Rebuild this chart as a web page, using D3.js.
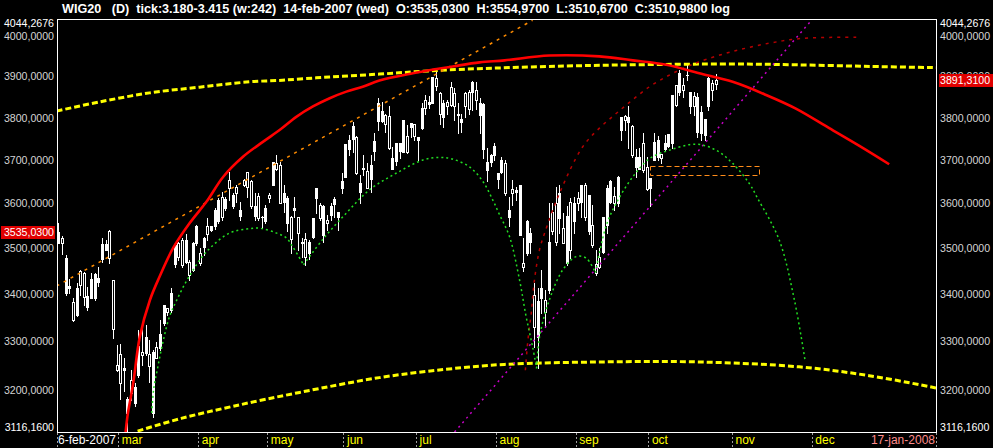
<!DOCTYPE html>
<html>
<head>
<meta charset="utf-8">
<script src="https://cdn.jsdelivr.net/npm/d3@7/dist/d3.min.js"></script>
<style>
  html, body { margin: 0; padding: 0; background: #000; }
  svg { display: block; }
</style>
</head>
<body>
<div id="chart"></div>
<script>
/* globals d3 */
const ticker = 'WIG20';
const windowBars = 242;
const priceMin = 3116.16;
const priceMax = 4044.2676;

// daily bars, 6-feb-2007 .. 26-oct-2007 (bar index 0..181)
const opens = [3535.03, 3511, 3478, 3418, 3345, 3413, 3420, 3394, 3396, 3433,
  3444, 3435, 3509, 3509, 3478, 3325, 3241, 3214, 3245, 3182,
  3194, 3206, 3290, 3271, 3308, 3249, 3278, 3265, 3314, 3377,
  3362, 3402, 3507, 3481, 3463, 3518, 3441, 3511, 3548, 3467,
  3522, 3530, 3548, 3585, 3608, 3569, 3609, 3634, 3619, 3623,
  3585, 3642, 3637, 3593, 3594, 3567, 3570, 3589, 3612, 3696,
  3678, 3600, 3623, 3612, 3519, 3590, 3534, 3514, 3480, 3514,
  3566, 3634, 3567, 3594, 3556, 3594, 3609, 3581, 3650, 3737,
  3747, 3780, 3669, 3646, 3682, 3636, 3688, 3745, 3835, 3817,
  3786, 3727, 3704, 3739, 3739, 3794, 3719, 3788, 3756, 3753,
  3823, 3823, 3839, 3898, 3877, 3810, 3835, 3827, 3831, 3827,
  3810, 3798, 3827, 3820, 3887, 3843, 3835, 3833, 3696, 3711,
  3733, 3669, 3700, 3623, 3585, 3624, 3631, 3642, 3459, 3559,
  3533, 3330, 3384, 3412, 3362, 3514, 3537, 3514, 3623, 3512,
  3572, 3496, 3600, 3600, 3642, 3570, 3619, 3507, 3445, 3459,
  3570, 3634, 3652, 3600, 3661, 3802, 3794, 3802, 3711, 3707,
  3707, 3677, 3632, 3657, 3743, 3747, 3704, 3739, 3761, 3855,
  3831, 3908, 3866, 3904, 3863, 3828, 3851, 3814, 3796, 3896,
  3867, 3882];

const highs = [3554.97, 3527, 3485, 3433, 3391, 3424, 3452, 3448, 3415, 3446,
  3446, 3459, 3522, 3518, 3540, 3431, 3292, 3294, 3265, 3186,
  3241, 3214, 3323, 3329, 3334, 3302, 3282, 3298, 3345, 3377,
  3370, 3413, 3511, 3514, 3522, 3530, 3474, 3514, 3551, 3499,
  3525, 3567, 3550, 3589, 3612, 3627, 3615, 3673, 3623, 3642,
  3604, 3656, 3673, 3654, 3623, 3623, 3572, 3596, 3623, 3696,
  3711, 3696, 3642, 3617, 3572, 3615, 3570, 3522, 3533, 3518,
  3567, 3635, 3600, 3596, 3574, 3600, 3615, 3581, 3669, 3738,
  3759, 3790, 3756, 3665, 3711, 3692, 3711, 3764, 3847, 3839,
  3810, 3827, 3730, 3739, 3739, 3794, 3782, 3788, 3786, 3753,
  3836, 3855, 3853, 3898, 3916, 3861, 3843, 3843, 3887, 3871,
  3835, 3810, 3863, 3867, 3890, 3887, 3847, 3835, 3727, 3715,
  3739, 3670, 3707, 3700, 3615, 3654, 3638, 3642, 3522, 3563,
  3544, 3423, 3412, 3452, 3409, 3600, 3600, 3638, 3642, 3578,
  3593, 3612, 3615, 3627, 3642, 3646, 3619, 3596, 3496, 3499,
  3570, 3642, 3654, 3638, 3663, 3802, 3806, 3827, 3782, 3725,
  3727, 3763, 3707, 3657, 3763, 3756, 3715, 3758, 3761, 3855,
  3879, 3917, 3896, 3929, 3863, 3863, 3859, 3827, 3798, 3900,
  3891, 3907];

const lows = [3510.67, 3487, 3398, 3402, 3342, 3353, 3398, 3377, 3366, 3391,
  3387, 3418, 3470, 3496, 3467, 3306, 3238, 3182, 3198, 3116.16,
  3180, 3168, 3227, 3251, 3271, 3216, 3146, 3265, 3282, 3334,
  3355, 3362, 3459, 3474, 3459, 3467, 3431, 3449, 3507, 3463,
  3485, 3518, 3537, 3542, 3556, 3563, 3585, 3608, 3589, 3604,
  3563, 3640, 3615, 3590, 3563, 3563, 3545, 3556, 3604, 3642,
  3677, 3600, 3580, 3537, 3488, 3570, 3496, 3481, 3463, 3475,
  3521, 3578, 3563, 3514, 3541, 3563, 3570, 3541, 3623, 3660,
  3711, 3719, 3667, 3600, 3665, 3634, 3627, 3700, 3771, 3790,
  3767, 3725, 3678, 3688, 3704, 3719, 3717, 3753, 3747, 3700,
  3773, 3810, 3823, 3836, 3867, 3786, 3778, 3810, 3827, 3794,
  3764, 3767, 3802, 3810, 3819, 3820, 3763, 3704, 3650, 3686,
  3700, 3634, 3669, 3619, 3548, 3596, 3608, 3529, 3449, 3484,
  3488, 3288, 3244, 3359, 3330, 3402, 3530, 3507, 3533, 3511,
  3463, 3478, 3533, 3585, 3570, 3563, 3530, 3503, 3441, 3456,
  3488, 3533, 3600, 3585, 3593, 3747, 3771, 3727, 3707, 3661,
  3678, 3673, 3630, 3593, 3700, 3700, 3692, 3723, 3730, 3727,
  3827, 3855, 3851, 3891, 3811, 3806, 3755, 3747, 3747, 3819,
  3843, 3870];

const closes = [3510.98, 3522, 3402, 3413, 3383, 3355, 3450, 3446, 3372, 3391,
  3391, 3426, 3476, 3496, 3538, 3431, 3251, 3273, 3241, 3154,
  3220, 3174, 3231, 3278, 3276, 3273, 3154, 3288, 3286, 3338,
  3370, 3366, 3465, 3511, 3518, 3470, 3470, 3452, 3511, 3488,
  3503, 3550, 3541, 3548, 3559, 3615, 3589, 3654, 3593, 3638,
  3572, 3654, 3671, 3652, 3572, 3617, 3568, 3559, 3619, 3642,
  3693, 3688, 3602, 3556, 3570, 3586, 3568, 3510, 3519, 3490,
  3525, 3612, 3596, 3529, 3563, 3574, 3598, 3570, 3634, 3661,
  3725, 3749, 3753, 3627, 3679, 3674, 3655, 3722, 3793, 3793,
  3806, 3804, 3678, 3698, 3722, 3719, 3756, 3778, 3785, 3747,
  3775, 3843, 3832, 3836, 3896, 3859, 3802, 3837, 3875, 3859,
  3806, 3790, 3859, 3863, 3863, 3867, 3806, 3725, 3677, 3696,
  3711, 3655, 3673, 3693, 3570, 3632, 3627, 3529, 3468, 3488,
  3514, 3398, 3309, 3391, 3386, 3409, 3581, 3600, 3566, 3544,
  3467, 3604, 3559, 3612, 3604, 3642, 3537, 3551, 3465, 3481,
  3492, 3551, 3604, 3617, 3600, 3771, 3804, 3790, 3780, 3683,
  3680, 3739, 3684, 3634, 3700, 3707, 3714, 3725, 3733, 3739,
  3879, 3863, 3879, 3903, 3828, 3853, 3767, 3764, 3759, 3827,
  3883, 3891.31];

const yTicks = [4000, 3900, 3800, 3700, 3600, 3500, 3400, 3300, 3200];
const monthLabels = ['mar', 'apr', 'may', 'jun', 'jul', 'aug', 'sep', 'oct', 'nov', 'dec'];
const monthStarts = [17, 39, 58, 79, 99, 121, 143, 163, 186, 208];
const firstDate = '6-feb-2007';
const lastDate = '17-jan-2008';

// studies drawn over the bars, as [bar index, price]
const redArc = [[18.5, 3116], [19.0, 3147], [20.6, 3214], [22.4, 3309], [25.2, 3387],
  [27.9, 3438], [31.6, 3500], [36.2, 3556], [40.8, 3604], [45.4, 3661], [50.9, 3708],
  [56.4, 3743], [61, 3771], [65.5, 3802], [70.1, 3827], [74.7, 3847], [79.3, 3863],
  [83.8, 3875], [88.4, 3890], [97.6, 3908], [103.1, 3917], [108.6, 3925], [116, 3935],
  [122.9, 3940], [135.2, 3952], [149, 3950], [158.2, 3940], [167.4, 3929], [176.5, 3908],
  [185.7, 3887], [194.9, 3855], [203.1, 3822], [212.3, 3775], [220.6, 3733], [228.8, 3690]];
const upperYellow = [[-0.5, 3816], [11.3, 3838], [25.1, 3860], [38.9, 3874], [52.6, 3887],
  [61.7, 3891], [74.7, 3899], [88.4, 3906], [102.2, 3914], [120.6, 3921], [139.9, 3926],
  [158, 3929], [185.6, 3931], [203.2, 3929], [223.4, 3925], [241.7, 3922]];
const lowerYellow = [[21.8, 3118], [33.8, 3143], [48, 3167], [66.4, 3195], [88.4, 3225],
  [106.8, 3242], [122.8, 3252], [149, 3257], [176.5, 3257], [204, 3247], [223.3, 3229],
  [241.7, 3204]];
const greenArcs = [
  [[25.7, 3154], [26.2, 3200], [27.4, 3248], [28.8, 3299], [30.6, 3352], [32.6, 3387],
    [35.8, 3435], [40.8, 3492], [47.1, 3533], [51.8, 3542], [55.4, 3544], [60.1, 3533],
    [62.8, 3522], [64.5, 3503], [67.5, 3463]],
  [[67.5, 3463], [72.7, 3518], [79.3, 3578], [85.7, 3631], [93, 3669], [100.4, 3700],
    [105, 3706], [108.5, 3702], [113.2, 3684], [116.9, 3650], [119.6, 3608], [121.5, 3574],
    [124.2, 3526], [127, 3430], [128.8, 3352], [130.6, 3288], [131.7, 3244]],
  [[131.7, 3244], [132.5, 3309], [135.2, 3387], [138.9, 3452], [142.6, 3481], [145.3, 3478],
    [147.9, 3446]],
  [[147.9, 3446], [150.8, 3548], [153.6, 3600], [158.2, 3661], [162.8, 3703], [168.3, 3723],
    [175.6, 3737], [181.1, 3723], [185.7, 3692], [190.3, 3645], [192.6, 3611], [198.5, 3518],
    [202.7, 3387], [205.7, 3257]],
];
const darkRedArc = [[128.6, 3240], [129.3, 3302], [130.2, 3358], [131.1, 3430], [132.5, 3496],
  [133.9, 3533], [138, 3623], [144.4, 3731], [149, 3775], [153.6, 3810], [158.1, 3843],
  [162.8, 3875], [167.5, 3900], [172, 3920], [176.6, 3937], [185.6, 3962], [195.8, 3983],
  [204.9, 3995], [220, 3998]];
const orangeLine = [[-0.5, 3417], [130.6, 4041]];
const magentaLine = [[109.1, 3116.2], [207.4, 4041]];
const orangeBox = [[162.8, 3686], [192.9, 3664]];

const chart = {
  init() {
    chart.width = 993;
    chart.height = 448;
    chart.plot = { left: 57, right: 936, top: 19, bottom: 432 };
    chart.font = '\'Liberation Sans\', Arial, sans-serif';
    chart.fmt = v => d3.format('.4f')(v).replace('.', ',');

    chart.x = d3.scaleLinear()
      .domain([-0.4, windowBars - 0.3])
      .range([chart.plot.left, chart.plot.right]);
    chart.y = d3.scaleLog()
      .domain([priceMin, priceMax])
      .range([chart.plot.bottom, chart.plot.top]);

    chart.svg = d3.select('#chart').append('svg')
      .attr('width', chart.width)
      .attr('height', chart.height);

    chart.svg.append('rect')
      .attr('width', chart.width)
      .attr('height', chart.height)
      .attr('fill', '#000');

    chart.svg.append('clipPath')
      .attr('id', 'plot-clip')
      .append('rect')
      .attr('x', chart.plot.left + 1)
      .attr('y', chart.plot.top + 1)
      .attr('width', chart.plot.right - chart.plot.left - 1)
      .attr('height', chart.plot.bottom - chart.plot.top - 1);

    chart.drawCandles();
    chart.drawStudies();
    chart.drawFrame();
    chart.drawAxes();
    chart.drawTitle();
  },

  drawCandles() {
    const bars = opens.map((o, i) => ({ i, o, h: highs[i], l: lows[i], c: closes[i] }));
    const g = chart.svg.append('g')
      .attr('class', 'candles')
      .attr('clip-path', 'url(#plot-clip)')
      .attr('shape-rendering', 'crispEdges');

    g.selectAll('line')
      .data(bars)
      .join('line')
      .attr('x1', d => Math.round(chart.x(d.i)) + 0.5)
      .attr('x2', d => Math.round(chart.x(d.i)) + 0.5)
      .attr('y1', d => Math.round(chart.y(d.h)))
      .attr('y2', d => Math.round(chart.y(d.l)) + 1)
      .attr('stroke', '#fff')
      .attr('stroke-width', 1);

    // filled body = down day, hollow body = up day
    g.selectAll('rect')
      .data(bars)
      .join('rect')
      .each(function (d) {
        const cx = Math.round(chart.x(d.i));
        const top = Math.round(chart.y(Math.max(d.o, d.c)));
        const bot = Math.round(chart.y(Math.min(d.o, d.c)));
        const r = d3.select(this);
        if (d.c < d.o) {
          r.attr('x', cx - 1).attr('y', top)
            .attr('width', 3).attr('height', Math.max(1, bot - top + 1))
            .attr('fill', '#fff');
        } else {
          r.attr('x', cx - 0.5).attr('y', top + 0.5)
            .attr('width', 2).attr('height', Math.max(1, bot - top))
            .attr('fill', '#000')
            .attr('stroke', '#fff')
            .attr('stroke-width', 1);
        }
      });
  },

  drawStudies() {
    const g = chart.svg.append('g')
      .attr('class', 'studies')
      .attr('clip-path', 'url(#plot-clip)')
      .attr('fill', 'none');

    const smooth = d3.line()
      .x(d => chart.x(d[0]))
      .y(d => chart.y(d[1]))
      .curve(d3.curveCatmullRom.alpha(0.5));
    const straight = d3.line()
      .x(d => chart.x(d[0]))
      .y(d => chart.y(d[1]));

    [upperYellow, lowerYellow].forEach((pts) => {
      g.append('path')
        .attr('d', smooth(pts))
        .attr('stroke', '#ffff00')
        .attr('stroke-width', 3)
        .attr('stroke-dasharray', '6,3');
    });

    g.append('path')
      .attr('d', straight(orangeLine))
      .attr('stroke', '#ff8c00')
      .attr('stroke-width', 1.5)
      .attr('stroke-dasharray', '3,5');

    g.append('path')
      .attr('d', straight(magentaLine))
      .attr('stroke', '#c800c8')
      .attr('stroke-width', 1.5)
      .attr('stroke-dasharray', '2,4');

    g.append('path')
      .attr('d', smooth(darkRedArc))
      .attr('stroke', '#b40000')
      .attr('stroke-width', 1.5)
      .attr('stroke-dasharray', '3,5');

    g.selectAll('path.green')
      .data(greenArcs)
      .join('path')
      .attr('class', 'green')
      .attr('d', smooth)
      .attr('stroke', '#22dd22')
      .attr('stroke-width', 1.5)
      .attr('stroke-dasharray', '2,3');

    const bx0 = chart.x(orangeBox[0][0]);
    const bx1 = chart.x(orangeBox[1][0]);
    const by0 = chart.y(orangeBox[0][1]);
    const by1 = chart.y(orangeBox[1][1]);
    g.append('rect')
      .attr('x', Math.round(bx0) + 0.5)
      .attr('y', Math.round(by0) + 0.5)
      .attr('width', Math.round(bx1 - bx0))
      .attr('height', Math.round(by1 - by0))
      .attr('stroke', '#ff8c1a')
      .attr('stroke-width', 1)
      .attr('stroke-dasharray', '5,3');

    g.append('path')
      .attr('d', smooth(redArc))
      .attr('stroke', '#ff0000')
      .attr('stroke-width', 2.6);
  },

  drawFrame() {
    const p = chart.plot;
    chart.svg.append('path')
      .attr('d', `M${p.left + 0.5},${p.bottom + 0.5}V${p.top + 0.5}H${p.right + 0.5}V${p.bottom + 0.5}Z`)
      .attr('fill', 'none')
      .attr('stroke', '#fff')
      .attr('stroke-width', 1)
      .attr('shape-rendering', 'crispEdges');
  },

  drawAxes() {
    const p = chart.plot;
    const labelStyle = sel => sel
      .attr('font-family', chart.font)
      .attr('font-size', 10.6);

    // price labels, both sides
    const left = chart.svg.append('g')
      .attr('transform', `translate(${p.left},0)`)
      .call(d3.axisLeft(chart.y).tickValues(yTicks).tickSize(0).tickPadding(3).tickFormat(chart.fmt));
    const right = chart.svg.append('g')
      .attr('transform', `translate(${p.right},0)`)
      .call(d3.axisRight(chart.y).tickValues(yTicks).tickSize(0).tickPadding(4).tickFormat(chart.fmt));
    [left, right].forEach((g) => {
      g.select('.domain').remove();
      g.selectAll('text')
        .attr('fill', '#d4d4d4')
        .call(labelStyle);
    });

    // range extremes pinned to the frame
    [[priceMax, p.top + 4], [priceMin, p.bottom - 5]].forEach(([v, yy]) => {
      chart.svg.append('text').attr('x', p.left - 3).attr('y', yy).attr('dy', '0.35em')
        .attr('text-anchor', 'end').attr('fill', '#fff').text(chart.fmt(v)).call(labelStyle);
      chart.svg.append('text').attr('x', p.right + 4).attr('y', yy).attr('dy', '0.35em')
        .attr('fill', '#fff').text(chart.fmt(v)).call(labelStyle);
    });

    // highlighted values: first open on the left, last close on the right
    const marker = (v, xBox, anchorX, anchor) => {
      const yy = Math.round(chart.y(v));
      chart.svg.append('rect')
        .attr('x', xBox).attr('y', yy - 6)
        .attr('width', 54).attr('height', 13)
        .attr('fill', '#e00000');
      chart.svg.append('text')
        .attr('x', anchorX).attr('y', yy).attr('dy', '0.35em')
        .attr('text-anchor', anchor)
        .attr('fill', '#fff')
        .text(chart.fmt(v))
        .call(labelStyle);
    };
    marker(opens[0], 1, p.left - 3, 'end');
    marker(closes[closes.length - 1], p.right + 3, p.right + 4, 'start');

    // month axis
    const bottom = chart.svg.append('g')
      .attr('transform', `translate(0,${p.bottom + 1})`)
      .call(d3.axisBottom(chart.x)
        .tickValues(monthStarts.map(i => i - 0.5))
        .tickSize(15)
        .tickFormat((d, k) => monthLabels[k]));
    bottom.select('.domain').remove();
    bottom.selectAll('line')
      .attr('stroke', '#a0a0a0')
      .attr('stroke-dasharray', '2,2')
      .attr('shape-rendering', 'crispEdges');
    bottom.selectAll('text')
      .attr('y', 11)
      .attr('x', 3)
      .attr('dy', 0)
      .attr('text-anchor', 'start')
      .attr('fill', '#ffff00')
      .attr('font-family', chart.font)
      .attr('font-size', 12);

    [p.left, p.right].forEach((xx) => {
      chart.svg.append('line')
        .attr('x1', xx + 0.5).attr('x2', xx + 0.5)
        .attr('y1', p.bottom + 1).attr('y2', chart.height)
        .attr('stroke', '#a0a0a0')
        .attr('stroke-dasharray', '2,2')
        .attr('shape-rendering', 'crispEdges');
    });

    chart.svg.append('text')
      .attr('x', p.left + 1).attr('y', p.bottom + 12)
      .attr('fill', '#fff')
      .attr('font-family', chart.font).attr('font-size', 12)
      .text(firstDate);
    chart.svg.append('text')
      .attr('x', p.right - 1).attr('y', p.bottom + 12)
      .attr('text-anchor', 'end')
      .attr('fill', '#ff8c8c')
      .attr('font-family', chart.font).attr('font-size', 12)
      .text(lastDate);
  },

  drawTitle() {
    const f = chart.fmt;
    const title = `${ticker}   (D)  tick:3.180-3.415 (w:${windowBars})  14-feb-2007 (wed)  `
      + `O:${f(opens[0])}  H:${f(highs[0])}  L:${f(lows[0])}  C:${f(closes[0])} log`;
    chart.svg.append('text')
      .attr('x', 62)
      .attr('y', 13)
      .attr('fill', '#fff')
      .attr('font-family', chart.font)
      .attr('font-size', 12)
      .attr('font-weight', 700)
      .attr('textLength', 668)
      .attr('lengthAdjust', 'spacingAndGlyphs')
      .style('white-space', 'pre')
      .text(title);
  },
};

chart.init();
</script>
</body>
</html>
